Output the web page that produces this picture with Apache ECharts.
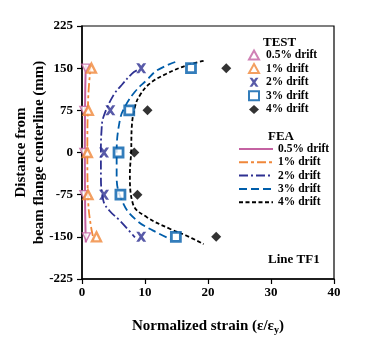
<!DOCTYPE html>
<html>
<head>
<meta charset="utf-8">
<script src="https://cdn.jsdelivr.net/npm/echarts@6/dist/echarts.min.js"></script>
<style>
  html, body { margin: 0; padding: 0; background: #fff; }
  #chart { width: 376px; height: 337px; }
</style>
</head>
<body>
<div id="chart"></div>
<script>
// Heights along the flange (mm) where strain gauges sit
const gaugeY = [150, 75, 0, -75, -150];

// Measured normalized strain at each gauge, per drift level
const test05 = [0.6, 0.3, 0.3, 0.3, 0.7];
const test1  = [1.5, 1.0, 0.85, 0.95, 2.3];
const test2  = [9.4, 4.5, 3.5, 3.5, 9.4];
const test3  = [17.3, 7.5, 5.8, 6.1, 14.9];
const test4  = [22.9, 10.4, 8.3, 8.8, 21.3];

// Finite-element strain profiles: [strain, height]
const fea05 = [[0.6, 155], [0.5, 100], [0.45, 0], [0.5, -100], [0.6, -160]];
const fea1  = [[1.4, 155], [1.0, 100], [0.85, 0], [1.0, -90], [1.4, -130], [1.9, -157]];
const fea2  = [[8.7, 146], [7.9, 140], [6.3, 120], [5.0, 102], [3.4, 63], [3.1, 39], [3.0, 0],
               [3.0, -38], [3.4, -86], [4.4, -104], [6.0, -121], [8.4, -151]];
const fea3  = [[14.8, 161], [11.9, 146], [10.3, 129], [8.4, 108], [6.8, 81], [6.0, 57], [5.5, 0],
               [5.5, -44], [6.6, -92], [8.7, -121], [11.3, -139], [14.0, -154]];
const fea4  = [[19.3, 163], [16.6, 155], [13.4, 140], [10.8, 123], [9.2, 102], [8.4, 81], [7.9, 45],
               [7.8, 0], [7.6, -38], [8.1, -92], [10.3, -115], [14.0, -136], [16.6, -148], [19.3, -163]];

const driftLabels = ['0.5% drift', '1% drift', '2% drift', '3% drift', '4% drift'];
const xTicks = [0, 10, 20, 30, 40];
const yTicks = [-225, -150, -75, 0, 75, 150, 225];

const colors = ['#C462A2', '#F0873A', '#2E3192', '#005DAA', '#000000'];
const serif = '"Liberation Serif", "Times New Roman", serif';

const crossPath = 'path://M0,0 L3,0 L5,2.6 L7,0 L10,0 L6.6,5 L10,10 L7,10 L5,7.4 L3,10 L0,10 L3.4,5 Z';

function pairs(xs) { return xs.map((x, i) => [x, gaugeY[i]]); }

const testSets = [test05, test1, test2, test3, test4];
const testStyles = [
  { symbol: 'triangle', symbolRotate: 180, symbolSize: 8, itemStyle: { color: '#fff', borderColor: colors[0], borderWidth: 1.4 } },
  { symbol: 'triangle', symbolSize: 9, itemStyle: { color: '#fff', borderColor: colors[1], borderWidth: 2.4 } },
  { symbol: crossPath, symbolSize: 10, itemStyle: { color: colors[2] } },
  { symbol: 'rect', symbolSize: 9, itemStyle: { color: '#fff', borderColor: colors[3], borderWidth: 2.8 } },
  { symbol: 'diamond', symbolSize: 10, itemStyle: { color: colors[4] } }
];

const feaSets = [fea05, fea1, fea2, fea3, fea4];
const feaDash = ['solid', [9, 3, 3, 3], [9, 3, 2, 3], [8, 4], [4, 2.5]];

const series = [];
feaSets.forEach((d, i) => {
  series.push({
    name: 'FEA|' + driftLabels[i],
    type: 'line',
    data: d,
    smooth: 0.4,
    symbol: 'none',
    z: 2,
    lineStyle: { color: colors[i], width: i === 0 ? 2 : 1.8, type: feaDash[i] },
    itemStyle: { color: colors[i] }
  });
});
testSets.forEach((xs, i) => {
  series.push(Object.assign({
    name: 'TEST|' + driftLabels[i],
    type: 'scatter',
    data: pairs(xs),
    z: 3
  }, testStyles[i]));
});

const legendText = { fontFamily: serif, fontWeight: 'bold', fontSize: 11.5, color: '#000' };

const axisCommon = {
  axisLine: { onZero: false, lineStyle: { color: '#000', width: 1.5 } },
  axisTick: { length: 5, lineStyle: { color: '#000', width: 1.2 } },
  splitLine: { show: false },
  nameMoveOverlap: false
};

const option = {
  animation: false,
  grid: { left: 82, right: 42, top: 26, bottom: 58, show: true, borderColor: '#000', borderWidth: 1.2,
          containLabel: false, outerBoundsMode: 'none' },
  xAxis: Object.assign({
    type: 'value', min: 0, max: 40, interval: 10,
    name: '{t|Normalized strain (ε/ε}{s|y}{t|)}',
    nameLocation: 'middle', nameGap: 38,
    nameTextStyle: {
      rich: {
        t: { fontFamily: serif, fontWeight: 'bold', fontSize: 15, color: '#000' },
        s: { fontFamily: serif, fontWeight: 'bold', fontSize: 10, color: '#000', padding: [8, 0, 0, 0] }
      }
    },
    axisLabel: { fontFamily: serif, fontWeight: 'bold', fontSize: 13, color: '#000', margin: 7,
                 formatter: v => xTicks.includes(v) ? String(v) : '' }
  }, axisCommon),
  yAxis: Object.assign({
    type: 'value', min: -225, max: 225, interval: 75,
    name: 'Distance from\nbeam flange centerline (mm)',
    nameLocation: 'middle', nameGap: 34,
    nameTextStyle: { fontFamily: serif, fontWeight: 'bold', fontSize: 15, color: '#000', lineHeight: 18 },
    axisLabel: { fontFamily: serif, fontWeight: 'bold', fontSize: 13, color: '#000', margin: 9,
                 formatter: v => yTicks.includes(v) ? String(v) : '' }
  }, axisCommon),
  legend: [
    {
      data: series.filter(s => s.name.startsWith('TEST')).map(s => s.name),
      orient: 'vertical', left: 248, top: 49, padding: 0,
      itemWidth: 10, itemHeight: 9, itemGap: 1.6,
      formatter: n => n.split('|')[1],
      textStyle: Object.assign({ padding: [0, 0, 0, 2] }, legendText)
    },
    {
      data: series.filter(s => s.name.startsWith('FEA')).map(s => s.name),
      orient: 'vertical', left: 238, top: 143, padding: 0,
      itemWidth: 34, itemHeight: 10, itemGap: 1.3,
      itemStyle: { opacity: 0 },
      formatter: n => n.split('|')[1],
      textStyle: legendText
    }
  ],
  graphic: [
    { type: 'text', left: 263, top: 36, style: { text: 'TEST', fontFamily: serif, fontWeight: 'bold', fontSize: 13, fill: '#000' } },
    { type: 'text', left: 268, top: 130, style: { text: 'FEA', fontFamily: serif, fontWeight: 'bold', fontSize: 13, fill: '#000' } },
    { type: 'text', left: 268, top: 253, style: { text: 'Line TF1', fontFamily: serif, fontWeight: 'bold', fontSize: 13, fill: '#000' } }
  ],
  series: series
};

echarts.init(document.getElementById('chart')).setOption(option);
</script>
</body>
</html>
